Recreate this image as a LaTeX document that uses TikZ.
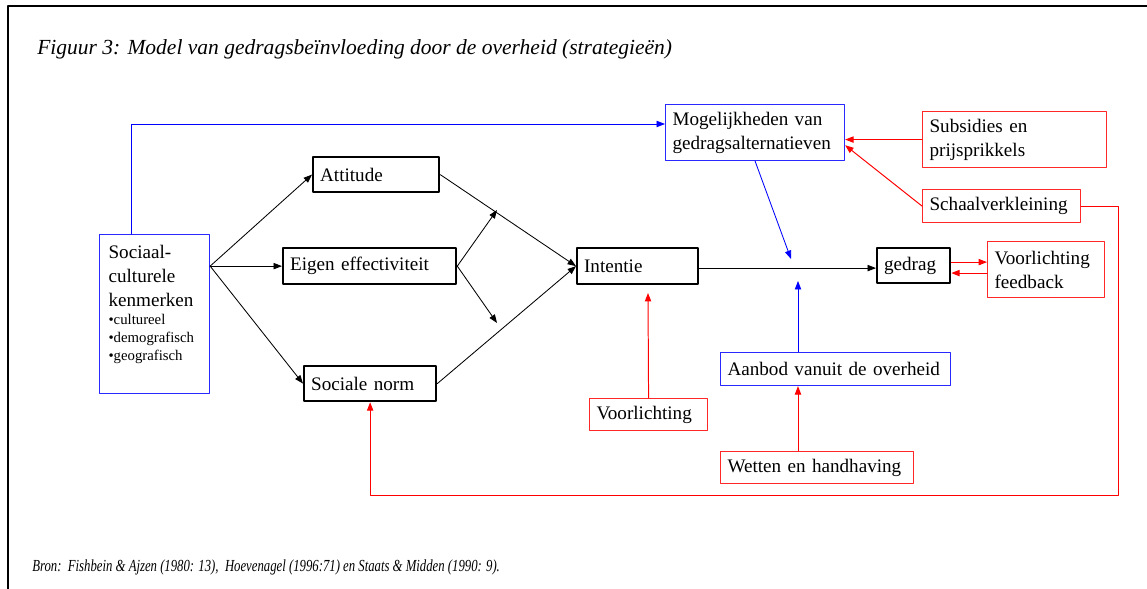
\documentclass[tikz,border=0pt]{standalone}
\usepackage{fontspec}
\setmainfont{Liberation Serif}
\usepackage{tikz}
\usetikzlibrary{arrows.meta}
\definecolor{boxblue}{HTML}{2828FF}
\definecolor{boxred}{HTML}{FF2828}
\newcommand{\vakfont}{\fontsize{13.6}{17}\selectfont}
\newcommand{\kleinfont}{\fontsize{10.5}{12.8}\selectfont}

\tikzset{
  vak/.style={anchor=north west,align=left,inner xsep=0.175cm,inner ysep=0pt,font=\vakfont},
  zwart/.style={vak,draw=black,line width=1.6pt},
  blauw/.style={vak,draw=boxblue,line width=0.8pt},
  rood/.style={vak,draw=boxred,line width=0.8pt},
  pijl/.style={->,line width=0.6pt},
  blauwpijl/.style={->,line width=0.6pt,color=blue},
  roodpijl/.style={->,line width=0.7pt,color=red}
}

\begin{document}
\begin{tikzpicture}[line cap=round,line join=round,>={Triangle[length=6pt,width=4.5pt]},x=0.025cm,y=-0.025cm]
    \useasboundingbox (0,0) rectangle (1147,589);
    \draw [line width=1.4pt,line cap=butt] (8,589) -- (8,6) -- (1147,6);

    \node[anchor=base west,inner sep=0pt,font=\fontsize{15.3}{18}\selectfont\itshape] (titel) at (37,55) {Figuur 3: Model van gedragsbeïnvloeding door de overheid (strategieën)};
    \node[anchor=base west,inner sep=0pt,font=\fontsize{12}{14}\selectfont\itshape] (bron) at (32,572) {\scalebox{0.755}[1]{Bron:\ \ Fishbein \& Ajzen (1980: 13),\ \ Hoevenagel (1996:71) en Staats \& Midden (1990: 9).}};

    % boxes
    \node[blauw,inner xsep=0.225cm,inner ysep=0.275cm] (soc) at (99,234) {\parbox[t][3.425cm][t]{2.3cm}{\raggedright{\vakfont Sociaal-\\culturele\\kenmerken\par}{\kleinfont •cultureel\\•demografisch\\•geografisch\par}}};
    \node[zwart,text width=2.8cm,minimum height=0.875cm] (att) at (312,156) {Attitude};
    \node[zwart,text width=3.975cm,minimum height=0.9cm] (eig) at (282,247) {Eigen effectiviteit};
    \node[zwart,text width=2.95cm,minimum height=0.875cm] (snorm) at (303,365) {Sociale norm};
    \node[zwart,text width=2.675cm,minimum height=0.9cm] (int) at (576,247) {Intentie};
    \node[zwart,text width=1.475cm,minimum height=0.875cm] (ged) at (876,247) {gedrag};
    \node[rood,text width=2.575cm,minimum height=1.4cm] (vfb) at (987,241) {Voorlichting\\feedback};
    \node[blauw,text width=4.125cm,minimum height=1.4cm] (mog) at (665,104) {Mogelijkheden van\\gedragsalternatieven};
    \node[rood,text width=4.25cm,minimum height=1.4cm] (sub) at (922,111) {Subsidies en\\prijsprikkels};
    \node[rood,text width=3.6cm,minimum height=0.825cm] (sch) at (922,189) {Schaalverkleining};
    \node[blauw,text width=5.4cm,minimum height=0.825cm] (aan) at (720,352) {Aanbod vanuit de overheid};
    \node[rood,text width=2.6cm,minimum height=0.8cm] (vl) at (589,398) {Voorlichting};
    \node[rood,text width=4.475cm,minimum height=0.8cm] (wet) at (720,451) {Wetten en handhaving};

    % free ends
    \coordinate (hoek) at (131,124);
    \coordinate (m1) at (497,210);
    \coordinate (m2) at (497,323);
    \coordinate (p1) at (791,259);
    \coordinate (p2) at (798,281);
    \coordinate (p3) at (648,293);
    \coordinate (r1) at (1118,495);

    % black arrows
    \draw [pijl] (soc.east |- eig.west) -- (att.west);
    \draw [pijl] (soc.east |- eig.west) -- (eig.west);
    \draw [pijl] (soc.east |- eig.west) -- (snorm.west);
    \draw [pijl] (att.east) -- (int.west);
    \draw [pijl] (snorm.east) -- (int.west);
    \draw [pijl] (eig.east) -- (m1);
    \draw [pijl] (eig.east) -- (m2);
    \draw [pijl] ([yshift=-1.4pt]int.east) -- ([yshift=-1.4pt]int.east -| ged.west);

    % blue arrows
    \draw [blauwpijl] (soc.north -| hoek) |- (mog.west |- hoek);
    \draw [blauwpijl] (mog.south) -- (p1);
    \draw [blauwpijl] (aan.north -| p2) -- (p2);

    % red arrows
    \draw [roodpijl] (wet.north -| p2) -- (aan.south -| p2);
    \draw [roodpijl] (vl.north) -- (p3);
    \draw [roodpijl] (sub.west) -- (sub.west -| mog.east);
    \draw [roodpijl] (sch.west) -- (mog.-8);
    \draw [roodpijl] (sch.east) -| (r1) -| (snorm.south);
    \draw [roodpijl] ([yshift=2.5pt]ged.east) -- ([yshift=2.5pt]ged.east -| vfb.west);
    \draw [roodpijl] ([yshift=-2.5pt]vfb.west) -- ([yshift=-2.5pt]vfb.west -| ged.east);
\end{tikzpicture}
\end{document}
